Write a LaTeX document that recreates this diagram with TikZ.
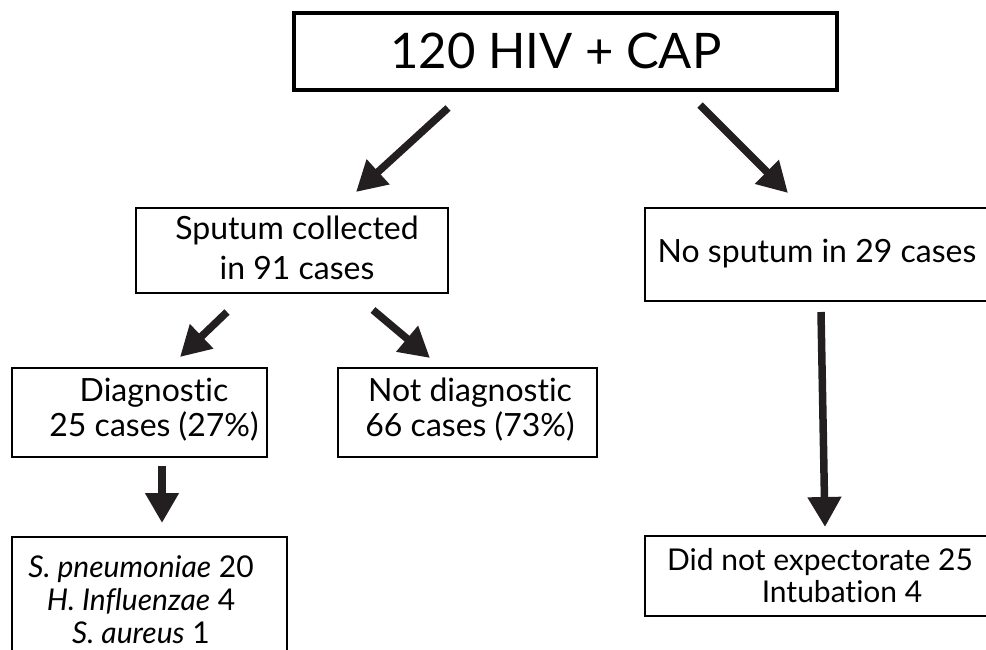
\documentclass[tikz,border=0pt]{standalone}
\usepackage{fontspec}
\setmainfont{Lato}[Ligatures=NoCommon, RawFeature={-liga;-clig;-dlig}]
\usetikzlibrary{arrows.meta, positioning}
\definecolor{ink}{RGB}{35, 31, 32}

\begin{document}
\begin{tikzpicture}[
    x=1pt, y=-1pt,
    font=\fontsize{32}{38}\selectfont,
    box/.style={
        rectangle, draw=black, line width=1.5pt,
        anchor=north west, inner sep=0pt, outer sep=0pt,
    },
    boxtext/.style={align=center, inner sep=0pt},
    flow/.style={
        -{Triangle[length=30pt, width=32pt]},
        line width=7.5pt, draw=ink,
    },
]
\useasboundingbox (0,0) rectangle (986,649);
\clip (0,0) rectangle (986,649);

% =============== Top ===============
\node[box, line width=4pt, minimum width=543pt, minimum height=77pt]
    (hiv) at (294,13) {};
\node[boxtext, font=\fontsize{49}{56}\selectfont] (hivtext) at (556,51)
    {120 HIV + CAP};

% =============== Second row ===============
\node[box, minimum width=312pt, minimum height=85pt] (sputum) at (136,208) {};
\node[boxtext, font=\fontsize{32}{40}\selectfont] (sputumtext) at (297,248)
    {Sputum collected\\in 91 cases};

\node[box, minimum width=350pt, minimum height=93pt] (nosputum) at (645,208) {};
\node[boxtext] (nosputumtext) at (817,254) {No sputum in 29 cases};

% =============== Third row ===============
\node[box, minimum width=255pt, minimum height=89pt] (diag) at (12,368) {};
\node[boxtext, font=\fontsize{32}{35}\selectfont] (diagtext) at (154,410)
    {Diagnostic\\25 cases (27\%)};

\node[box, minimum width=259pt, minimum height=89pt] (notdiag) at (338,368) {};
\node[boxtext, font=\fontsize{32}{35}\selectfont] (notdiagtext) at (470,410)
    {Not diagnostic\\66 cases (73\%)};

% =============== Bottom row ===============
\node[box, minimum width=275pt, minimum height=133pt] (orgs) at (12,537) {};
\node[boxtext, font=\fontsize{30}{33}\selectfont] (orgstext) at (141,600)
    {\textit{S. pneumoniae} 20\\\textit{H. Influenzae} 4\\\textit{S. aureus} 1};

\node[box, minimum width=350pt, minimum height=80pt] (expect) at (645,536) {};
\node[boxtext, font=\fontsize{30}{32}\selectfont] (expecttext) at (820,576)
    {Did not expectorate 25\\\hspace*{44pt}Intubation 4};

% =============== Arrows ===============
\coordinate (hiv-l) at (448,108);
\coordinate (sputum-in) at (356,192);
\coordinate (hiv-r) at (700,105);
\coordinate (nosputum-in) at (788,193);
\coordinate (sputum-l) at (227,312);
\coordinate (diag-in) at (180,357);
\coordinate (sputum-r) at (373,310);
\coordinate (notdiag-in) at (430,358);
\coordinate (diag-out) at (162,466);
\coordinate (orgs-in) at (162,523);
\coordinate (nosputum-out) at (821,312);
\coordinate (expect-in) at (825,527);

\draw[flow] (hiv-l) -- (sputum-in);
\draw[flow] (hiv-r) -- (nosputum-in);
\draw[flow] (sputum-l) -- (diag-in);
\draw[flow] (sputum-r) -- (notdiag-in);
\draw[flow] (diag-out) -- (orgs-in);
\draw[flow] (nosputum-out) -- (expect-in);

\end{tikzpicture}
\end{document}
